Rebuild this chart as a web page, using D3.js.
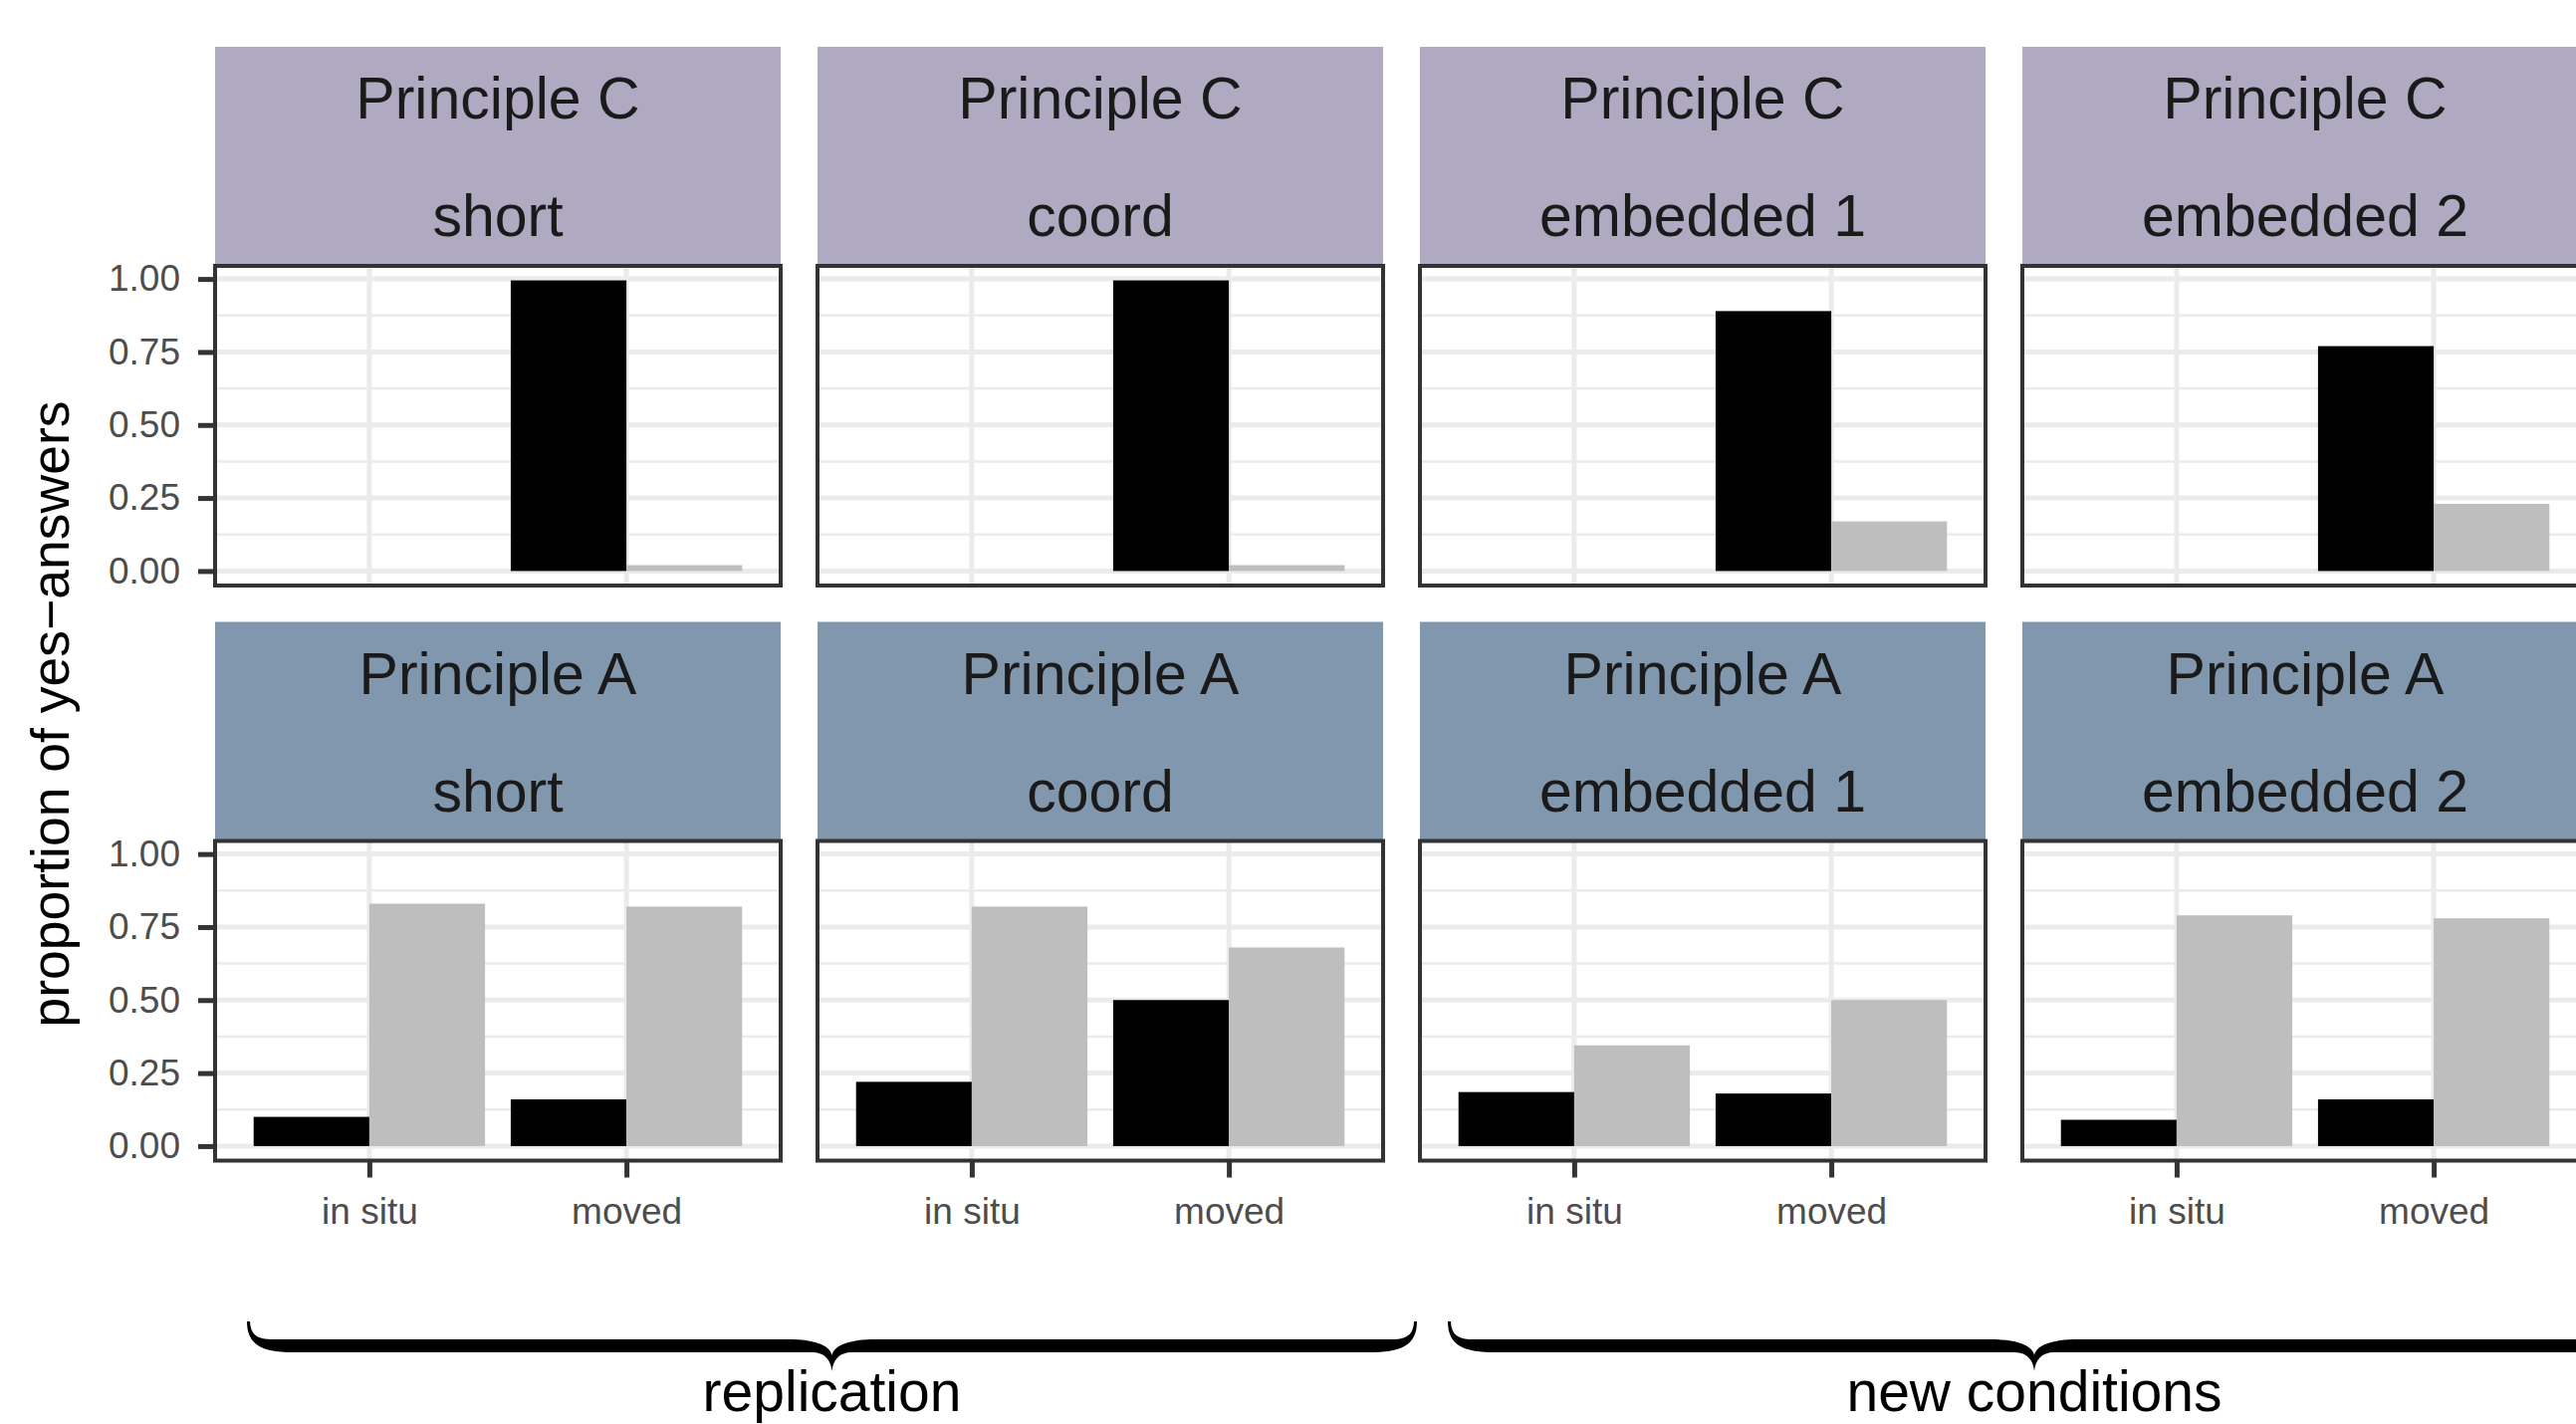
<!DOCTYPE html>
<html>
<head>
<meta charset="utf-8">
<script src="https://cdn.jsdelivr.net/npm/d3@7"></script>
<style>
  html, body { margin: 0; padding: 0; background: #fff; overflow: hidden; }
  svg { display: block; font-family: "Liberation Sans", Arial, Helvetica, sans-serif; }
</style>
</head>
<body>
<svg id="chart" width="2587" height="1430"></svg>
<script>
// ---- data ----
const rowLabels = ["Principle C", "Principle A"];
const colLabels = ["short", "coord", "embedded 1", "embedded 2"];
const xCategories = ["in situ", "moved"];
const seriesKeys = ["dark", "light"];
const yTickValues = [0, 0.25, 0.5, 0.75, 1];
const yMinorValues = [0.125, 0.375, 0.625, 0.875];

// proportion of yes-answers per panel as [in situ, moved]; null = no bar
const principleCDark  = [[null, 0.995], [null, 0.995], [null, 0.89], [null, 0.77]];
const principleCLight = [[null, 0.02],  [null, 0.02],  [null, 0.17], [null, 0.23]];
const principleADark  = [[0.10, 0.16], [0.22, 0.50], [0.185, 0.18], [0.09, 0.16]];
const principleALight = [[0.83, 0.82], [0.82, 0.68], [0.345, 0.50], [0.79, 0.78]];

const groupLabels = ["replication", "new conditions"];
const yTitle = "proportion of yes\u2212answers";

// ---- layout & style ----
const panelLeft0 = 216, colStep = 605, panelW = 568;
const stripTop0 = 47, rowStep = 577.5, stripH = 220, panelH = 321;
const stripFill = ["#afa9c2", "#8197ad"];
const seriesFill = { dark: "#000000", light: "#bebebe" };
const gridColor = "#ebebeb", borderColor = "#333333";

const seriesByRow = [
  { dark: principleCDark, light: principleCLight },
  { dark: principleADark, light: principleALight }
];

const svg = d3.select("#chart");
svg.append("rect").attr("width", 2587).attr("height", 1430).attr("fill", "#fff");

// shared scales (fixed across facets)
const allValues = [principleCDark, principleCLight, principleADark, principleALight]
  .flat(2).filter(v => v != null);
const yMax = d3.max(allValues);
const y = d3.scaleLinear().domain([-0.05 * yMax, 1.05 * yMax]).range([panelH, 0]);
const x = d3.scalePoint().domain(xCategories).range([0, panelW]).padding(0.6);
const dodge = d3.scaleBand().domain(seriesKeys)
  .range([-0.45 * x.step(), 0.45 * x.step()]).padding(0);

const defs = svg.append("defs");
defs.append("clipPath").attr("id", "panel-clip")
  .append("rect").attr("width", panelW).attr("height", panelH);

rowLabels.forEach((principle, r) => {
  colLabels.forEach((cond, c) => {
    const left = panelLeft0 + c * colStep;
    const stripTop = stripTop0 + r * rowStep;
    const panelTop = stripTop + stripH;

    // strip
    const strip = svg.append("g").attr("transform", `translate(${left},${stripTop})`);
    strip.append("rect").attr("width", panelW).attr("height", stripH).attr("fill", stripFill[r]);
    strip.append("text").attr("x", panelW / 2).attr("y", 72)
      .attr("text-anchor", "middle").attr("font-size", 59).attr("fill", "#1a1a1a").text(principle);
    strip.append("text").attr("x", panelW / 2).attr("y", 190)
      .attr("text-anchor", "middle").attr("font-size", 59).attr("fill", "#1a1a1a").text(cond);

    // panel
    const g = svg.append("g").attr("transform", `translate(${left},${panelTop})`);
    g.append("rect").attr("width", panelW).attr("height", panelH).attr("fill", "#fff");
    const inner = g.append("g").attr("clip-path", "url(#panel-clip)");

    inner.selectAll("line.minor").data(yMinorValues).join("line").attr("class", "minor")
      .attr("x1", 0).attr("x2", panelW).attr("y1", d => y(d)).attr("y2", d => y(d))
      .attr("stroke", gridColor).attr("stroke-width", 2.5);
    inner.selectAll("line.major-y").data(yTickValues).join("line").attr("class", "major-y")
      .attr("x1", 0).attr("x2", panelW).attr("y1", d => y(d)).attr("y2", d => y(d))
      .attr("stroke", gridColor).attr("stroke-width", 5);
    inner.selectAll("line.major-x").data(xCategories).join("line").attr("class", "major-x")
      .attr("x1", d => x(d)).attr("x2", d => x(d)).attr("y1", 0).attr("y2", panelH)
      .attr("stroke", gridColor).attr("stroke-width", 5);

    const bars = [];
    seriesKeys.forEach(k => {
      xCategories.forEach((cat, i) => {
        const v = seriesByRow[r][k][c][i];
        if (v != null) bars.push({ k, cat, v });
      });
    });
    inner.selectAll("rect.bar").data(bars).join("rect").attr("class", "bar")
      .attr("x", d => x(d.cat) + dodge(d.k))
      .attr("width", dodge.bandwidth())
      .attr("y", d => y(d.v))
      .attr("height", d => y(0) - y(d.v))
      .attr("fill", d => seriesFill[d.k]);

    g.append("rect").attr("width", panelW).attr("height", panelH)
      .attr("fill", "none").attr("stroke", borderColor).attr("stroke-width", 4);

    // axes: y on first column, x on bottom row
    if (c === 0) {
      const ay = g.append("g").call(
        d3.axisLeft(y).tickValues(yTickValues).tickFormat(d3.format(".2f"))
          .tickSize(17).tickPadding(18));
      ay.select(".domain").remove();
      ay.selectAll(".tick line").attr("stroke", borderColor).attr("stroke-width", 5);
      ay.selectAll(".tick text").attr("font-size", 37).attr("fill", "#4d4d4d")
        .attr("font-family", "Liberation Sans, Arial, sans-serif");
    }
    if (r === rowLabels.length - 1) {
      const ax = g.append("g").attr("transform", `translate(0,${panelH})`).call(
        d3.axisBottom(x).tickSize(17).tickPadding(20));
      ax.select(".domain").remove();
      ax.selectAll(".tick line").attr("stroke", borderColor).attr("stroke-width", 5);
      ax.selectAll(".tick text").attr("font-size", 37).attr("fill", "#4d4d4d")
        .attr("font-family", "Liberation Sans, Arial, sans-serif");
    }
  });
});

// y-axis title
svg.append("text")
  .attr("transform", "translate(69,717) rotate(-90)")
  .attr("text-anchor", "middle").attr("font-size", 53.5).attr("fill", "#000")
  .text(yTitle);

// curly braces grouping the columns
function bracePath(x0, x1, top) {
  const xm = (x0 + x1) / 2;
  const a = 18, t = 13, notch = 34, depth = 50;
  const rIn = 24, rOut = 48, cIn = 44, cOut = 20;
  const Y = v => top + v;
  return [
    `M${x0},${Y(0)}`,
    `L${x0 + 3},${Y(0)}`,
    `C${x0 + 3.5},${Y(a * 0.75)} ${x0 + rIn * 0.45},${Y(a)} ${x0 + rIn},${Y(a)}`,
    `L${xm - cIn},${Y(a)}`,
    `C${xm - cIn * 0.4},${Y(a)} ${xm - 2},${Y(a + 6)} ${xm},${Y(notch)}`,
    `C${xm + 2},${Y(a + 6)} ${xm + cIn * 0.4},${Y(a)} ${xm + cIn},${Y(a)}`,
    `L${x1 - rIn},${Y(a)}`,
    `C${x1 - rIn * 0.45},${Y(a)} ${x1 - 3.5},${Y(a * 0.75)} ${x1 - 3},${Y(0)}`,
    `L${x1},${Y(0)}`,
    `C${x1},${Y((a + t) * 0.8)} ${x1 - rOut * 0.35},${Y(a + t)} ${x1 - rOut},${Y(a + t)}`,
    `L${xm + cOut},${Y(a + t)}`,
    `C${xm + cOut * 0.35},${Y(a + t)} ${xm + 1},${Y(a + t + 8)} ${xm},${Y(depth)}`,
    `C${xm - 1},${Y(a + t + 8)} ${xm - cOut * 0.35},${Y(a + t)} ${xm - cOut},${Y(a + t)}`,
    `L${x0 + rOut},${Y(a + t)}`,
    `C${x0 + rOut * 0.35},${Y(a + t)} ${x0},${Y((a + t) * 0.8)} ${x0},${Y(0)}`,
    "Z"
  ].join(" ");
}

const braceSpans = [[248, 1423], [1454, 2632]];
braceSpans.forEach(([x0, x1], i) => {
  svg.append("path").attr("d", bracePath(x0, x1, 1327)).attr("fill", "#000");
  svg.append("text").attr("x", (x0 + x1) / 2).attr("y", 1417)
    .attr("text-anchor", "middle").attr("font-size", 57).attr("fill", "#000")
    .text(groupLabels[i]);
});
</script>
</body>
</html>
